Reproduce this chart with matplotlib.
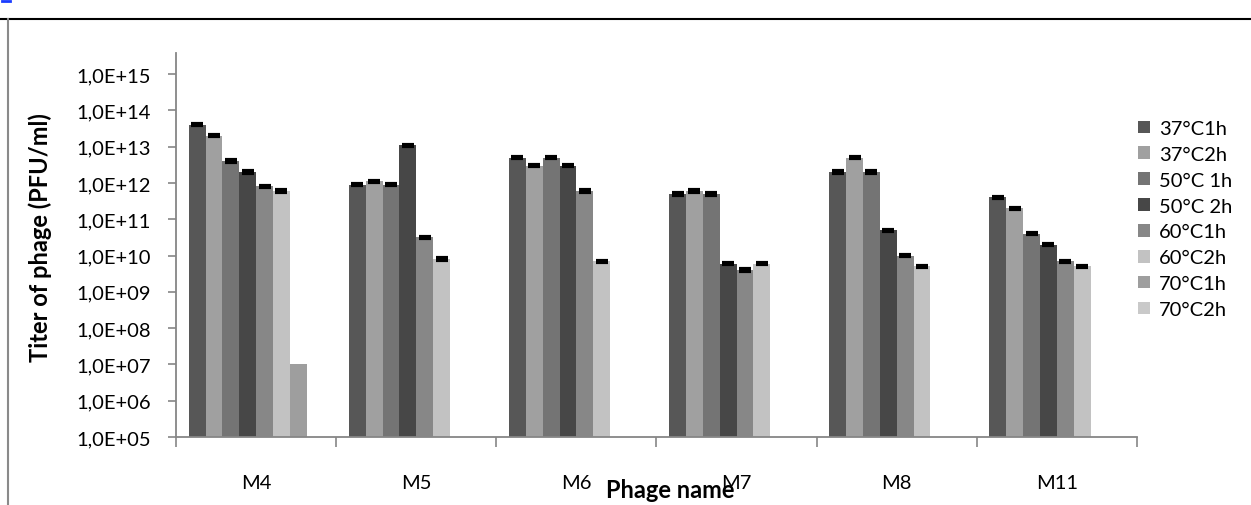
import matplotlib
matplotlib.use("Agg")
import matplotlib.pyplot as plt
import numpy as np
from matplotlib.lines import Line2D
from matplotlib.ticker import FixedLocator, NullLocator, FixedFormatter

plt.rcParams['font.family'] = ['Lato', 'DejaVu Sans']

# ---- data ----
phages = ["M4", "M5", "M6", "M7", "M8", "M11"]
series_names = ["37°C1h", "37°C2h", "50°C 1h", "50°C 2h", "60°C1h", "60°C2h", "70°C1h", "70°C2h"]
colors = ["#575757", "#a0a0a0", "#747474", "#474747", "#878787", "#c2c2c2", "#9e9e9e", "#c9c9c9"]

nan = np.nan
t37_1h = [4e13, 9e11, 5e12, 5e11, 2e12, 4e11]
t37_2h = [2e13, 1.1e12, 3e12, 6e11, 5e12, 2e11]
t50_1h = [4e12, 9e11, 5e12, 5e11, 2e12, 4e10]
t50_2h = [2e12, 1.1e13, 3e12, 6e9, 5e10, 2e10]
t60_1h = [8e11, 3.2e10, 6e11, 4e9, 1e10, 7e9]
t60_2h = [6e11, 8e9, 7e9, 6e9, 5e9, 5e9]
t70_1h = [1e7, nan, nan, nan, nan, nan]
t70_2h = [nan, nan, nan, nan, nan, nan]
values = [t37_1h, t37_2h, t50_1h, t50_2h, t60_1h, t60_2h, t70_1h, t70_2h]
has_err = [True, True, True, True, True, True, False, False]
rel_err = 0.04

ytick_vals = [10.0 ** k for k in range(5, 16)]
ytick_labels = ["1,0E+%02d" % k for k in range(5, 16)]

# ---- figure ----
fig = plt.figure(figsize=(12.51, 5.06), dpi=100)
ax = fig.add_axes([176 / 1251, 1 - 438 / 506, (1137 - 176) / 1251, (438 - 54) / 506])

n = len(series_names)
w = 1 / 9.5
xc = np.arange(len(phages))
for j, (name, vals, col) in enumerate(zip(series_names, values, colors)):
    x = xc + (j - (n - 1) / 2) * w
    v = np.array(vals, dtype=float)
    ax.bar(x, v, width=w, color=col, label=name, zorder=2, bottom=0)
    if has_err[j]:
        m = ~np.isnan(v)
        ax.errorbar(x[m], v[m], yerr=rel_err * v[m], fmt='none', ecolor='black',
                    elinewidth=3, capsize=4.3, capthick=3, zorder=3)

ax.set_yscale('log')
ax.set_ylim(1e5, 10 ** 15.58)
ax.set_xlim(-0.5, len(phages) - 0.5)
ax.yaxis.set_major_locator(FixedLocator(ytick_vals))
ax.yaxis.set_major_formatter(FixedFormatter(ytick_labels))
ax.yaxis.set_minor_locator(NullLocator())

ax.set_xticks(xc)
ax.set_xticklabels(phages)
ax.set_xticks(np.arange(len(phages) + 1) - 0.5, minor=True)
ax.tick_params(axis='x', which='major', length=0, pad=27, labelsize=14.5, colors='black')
ax.tick_params(axis='x', which='minor', length=7, width=1.2, color='#868686', direction='out')
ax.tick_params(axis='y', which='major', length=6, width=1.2, color='#868686', labelsize=14.5,
               labelcolor='black', pad=12)

for s in ['top', 'right']:
    ax.spines[s].set_visible(False)
for s in ['left', 'bottom']:
    ax.spines[s].set_color('#868686')
    ax.spines[s].set_linewidth(1.3)

fig.text(40 / 1251, 1 - 238 / 506, "Titer of phage (PFU/ml)", rotation=90, ha='center', va='center',
         fontsize=17, fontweight='bold')
fig.text(670 / 1251, 1 - 491 / 506, "Phage name", ha='center', va='center', fontsize=17,
         fontweight='bold')

leg = ax.legend(loc='upper left', bbox_to_anchor=(1138 / 1251, 1 - 121 / 506),
                bbox_transform=fig.transFigure, frameon=False, fontsize=14.5,
                handlelength=0.6, handleheight=0.6, handletextpad=0.45, labelspacing=0.44,
                borderpad=0, borderaxespad=0)

# page border lines
fig.add_artist(Line2D([0, 1], [1 - 20 / 506, 1 - 20 / 506], transform=fig.transFigure,
                      color='black', lw=1.5))
fig.add_artist(Line2D([7.5 / 1251, 7.5 / 1251], [0, 1 - 20 / 506], transform=fig.transFigure,
                      color='#8a8a8a', lw=1.5))
fig.add_artist(Line2D([2 / 1251, 10 / 1251], [1 - 1.5 / 506, 1 - 1.5 / 506], transform=fig.transFigure,
                      color='#1a3cff', lw=2))

fig.savefig("out.png", dpi=100)
